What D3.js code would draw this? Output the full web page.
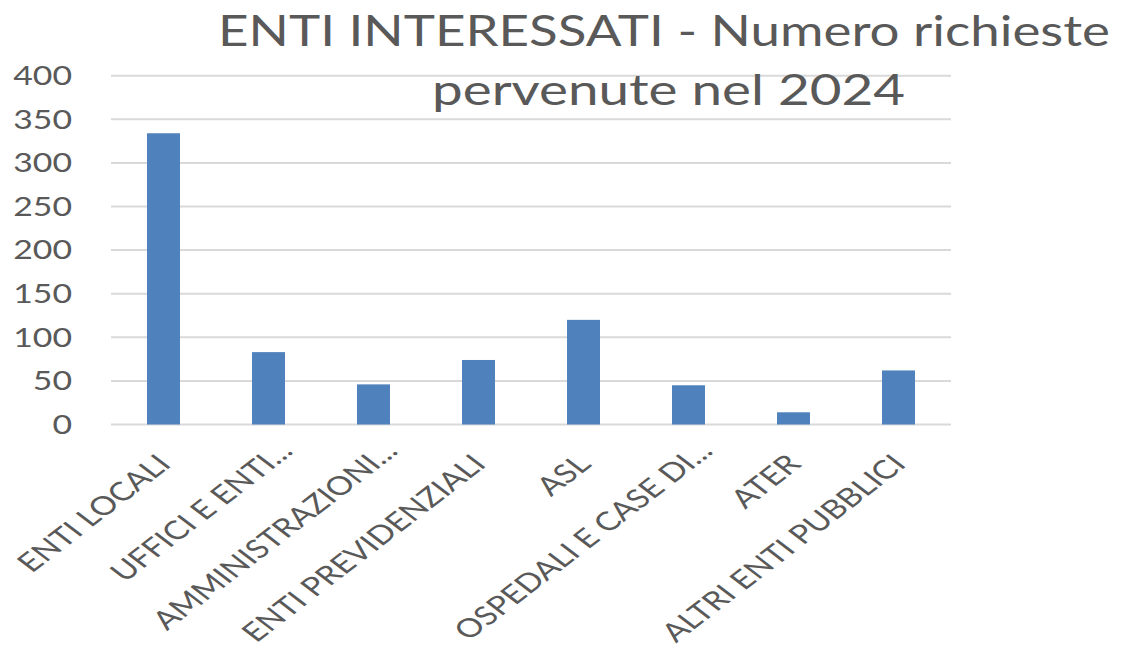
<!DOCTYPE html>
<html>
<head>
<meta charset="utf-8">
<script src="https://cdn.jsdelivr.net/npm/d3@7"></script>
<style>
  body { margin: 0; background: #fff; }
  text { font-family: Lato, "Open Sans", sans-serif; fill: #595959; }
</style>
</head>
<body>
<div id="chart"></div>
<script>
const categories = ["ENTI LOCALI", "UFFICI E ENTI...", "AMMINISTRAZIONI...", "ENTI PREVIDENZIALI",
                    "ASL", "OSPEDALI E CASE DI...", "ATER", "ALTRI ENTI PUBBLICI"];
const values = [334, 83, 46, 74, 120, 45, 14, 62];
const yTicks = [0, 50, 100, 150, 200, 250, 300, 350, 400];
const titleLines = ["ENTI INTERESSATI - Numero richieste", "pervenute nel 2024"];

const W = 1129, H = 654;
// the picture is stretched sideways, text gets the same stretch
const stretch = 1.3;
const labelSize = 26;

const plot = {left: 111, right: 951, top: 75.7, bottom: 424.5};

const svg = d3.select("#chart").append("svg")
    .attr("width", W)
    .attr("height", H);

const x = d3.scaleBand()
    .domain(categories)
    .range([plot.left, plot.right])
    .paddingInner(0.686)
    .paddingOuter(0.343);

const y = d3.scaleLinear()
    .domain([0, 400])
    .range([plot.bottom, plot.top]);

// gridlines
svg.append("g").selectAll("line").data(yTicks).enter()
    .append("line")
    .attr("x1", plot.left)
    .attr("x2", plot.right)
    .attr("y1", d => y(d))
    .attr("y2", d => y(d))
    .attr("stroke", "#d9d9d9")
    .attr("stroke-width", 2);

// y labels
svg.append("g").selectAll("text").data(yTicks).enter()
    .append("text")
    .attr("transform", d => "translate(72," + y(d) + ") scale(" + stretch + ",1)")
    .attr("text-anchor", "end")
    .attr("dy", "0.36em")
    .attr("font-size", labelSize)
    .text(d => d);

// bars
svg.append("g").selectAll("rect").data(values).enter()
    .append("rect")
    .attr("x", (d, i) => x(categories[i]))
    .attr("width", x.bandwidth())
    .attr("y", d => y(d))
    .attr("height", d => y(0) - y(d))
    .attr("fill", "#4f81bd");

// width of a trailing "..." : truncated labels let it hang past the tick
const probe = svg.append("text").attr("font-size", labelSize).text("...");
const dotsW = probe.node().getComputedTextLength();
probe.remove();

// category labels, rotated
svg.append("g").selectAll("text").data(categories).enter()
    .append("text")
    .attr("transform", d => "translate(" + (x(d) + x.bandwidth() / 2 + 9) + "," + (plot.bottom + 41) + ") scale(" + stretch + ",1) rotate(-45)"
          + (d.endsWith("...") ? " translate(" + dotsW + ",0)" : ""))
    .attr("text-anchor", "end")
    .attr("font-size", labelSize)
    .text(d => d);

// title
const titleY = [46, 105];
const titleX = [664, 668.5];
const titleW = [892, 473];
svg.append("g").selectAll("text").data(titleLines).enter()
    .append("text")
    .attr("transform", (d, i) => "translate(" + titleX[i] + "," + titleY[i] + ") scale(" + stretch + ",1)")
    .attr("text-anchor", "middle")
    .attr("font-size", 42)
    .attr("textLength", (d, i) => titleW[i] / stretch)
    .attr("lengthAdjust", "spacingAndGlyphs")
    .text(d => d);
</script>
</body>
</html>
